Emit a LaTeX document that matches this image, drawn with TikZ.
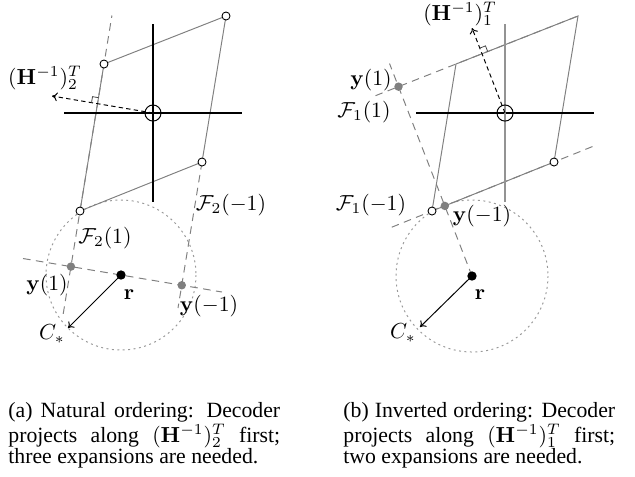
\documentclass[tikz,border=0pt]{standalone}
\usepackage[no-math]{fontspec}
\newfontfamily\capfont{Liberation Serif}
\usetikzlibrary{calc,arrows.meta}
\begin{document}
\begin{tikzpicture}[x=0.46pt,y=-0.46pt,
  lat/.style={draw=gray,line width=0.45pt},
  face/.style={draw=gray,line width=0.45pt,dash pattern=on 3.5pt off 2.5pt},
  axis/.style={draw=black,line width=0.55pt},
  gaxis/.style={draw=gray!85,line width=0.9pt},
  sph/.style={draw=gray!80,line width=0.45pt,dash pattern=on 0.9pt off 1.6pt},
  proj/.style={draw=black,line width=0.45pt,dash pattern=on 2pt off 1.5pt,-{To[length=2.5pt,width=4pt]}},
  rmark/.style={draw=black!75,line width=0.35pt},
  radarrow/.style={draw=black,line width=0.45pt,-{To[length=2.5pt,width=4pt]}},
  wpt/.style={circle,draw=black,fill=white,inner sep=0pt,minimum size=3.7pt,line width=0.4pt},
  gpt/.style={circle,fill=gray,inner sep=0pt,minimum size=3.9pt},
  bpt/.style={circle,fill=black,inner sep=0pt,minimum size=4.3pt},
  org/.style={circle,draw=black,inner sep=0pt,minimum size=7.4pt,line width=0.45pt},
  lbl/.style={inner sep=0pt},
  captionbox/.style={anchor=base west,inner sep=0pt}
]
\useasboundingbox (0,0) rectangle (635,476);

% ---------------- left panel ----------------
\coordinate (O1) at (153,113);
\coordinate (A1) at (80,211);
\coordinate (B1) at (202,162);
\coordinate (C1) at (226,16);
\coordinate (D1) at (104,64);
\coordinate (T1) at (52,96);
\coordinate (R1) at (121,275);
\coordinate (Q1) at ($(R1)+(T1)-(O1)$);
\coordinate (Y1p) at (intersection of A1--D1 and R1--Q1);
\coordinate (Y1m) at (intersection of B1--C1 and R1--Q1);
\coordinate (P1) at (intersection of A1--D1 and O1--T1);
\coordinate (X1) at ($(R1)+(-53,53)$);
\coordinate (H1w) at (64,113);
\coordinate (H1e) at (242,113);
\coordinate (V1n) at (153,24);
\coordinate (V1s) at (153,202);

\draw[sph] (R1) circle[radius=75];
\draw[face] ($(A1)!-0.7!(D1)$) -- ($(A1)!1.33!(D1)$);
\draw[face] (B1) -- ($(B1)!-1!(C1)$);
\draw[face] ($(R1)!0.97!(Q1)$) -- ($(R1)!-1!(Q1)$);
\draw[lat] (A1) -- (B1) -- (C1) -- (D1) -- cycle;
\draw[axis] (H1w) -- (H1e);
\draw[axis] (V1n) -- (V1s);
\draw[proj] (O1) -- (T1);
\coordinate (P1a) at ($(P1)!2.8pt!(T1)$);
\coordinate (P1b) at ($(P1)!2.8pt!(D1)$);
\draw[rmark] (P1a) -- ($(P1a)+(P1b)-(P1)$) -- (P1b);
\draw[radarrow] (R1) -- (X1);

\node[org] (o1) at (O1) {};
\node[wpt] (a1) at (A1) {};
\node[wpt] (b1) at (B1) {};
\node[wpt] (c1) at (C1) {};
\node[wpt] (d1) at (D1) {};
\node[gpt] (yp1) at (Y1p) {};
\node[gpt] (ym1) at (Y1m) {};
\node[bpt] (r1) at (R1) {};

\node[lbl] (lh1) at (45,78) {$(\mathbf{H}^{-1})^T_2$};
\node[lbl] (lfm1) at (231,205) {$\mathcal{F}_2(-1)$};
\node[lbl] (lfp1) at (105,238) {$\mathcal{F}_2(1)$};
\node[lbl] (lyp1) at (47,285) {$\mathbf{y}(1)$};
\node[lbl] (lr1) at (129,295) {$\mathbf{r}$};
\node[lbl] (lym1) at (209,306) {$\mathbf{y}(-1)$};
\node[lbl] (lc1) at (52,334) {$C_*$};

% ---------------- right panel ----------------
\coordinate (O2) at (505,113);
\coordinate (A2) at (432,211);
\coordinate (B2) at (554,162);
\coordinate (C2) at (578,16);
\coordinate (D2) at (456,64);
\coordinate (T2) at (472,28);
\coordinate (R2) at (472,276);
\coordinate (Q2) at ($(R2)+(T2)-(O2)$);
\coordinate (Y2p) at (intersection of D2--C2 and R2--Q2);
\coordinate (Y2m) at (intersection of A2--B2 and R2--Q2);
\coordinate (P2) at (intersection of D2--C2 and O2--T2);
\coordinate (X2) at ($(R2)+(-52,51)$);
\coordinate (H2w) at (416,113);
\coordinate (H2e) at (594,113);
\coordinate (V2n) at (505,24);
\coordinate (V2s) at (505,202);

\draw[sph] (R2) circle[radius=76];
\draw[face] ($(D2)!-0.66!(C2)$) -- (C2);
\draw[face] ($(A2)!-0.33!(B2)$) -- ($(A2)!1.33!(B2)$);
\draw[face] (R2) -- ($(R2)!2.5!(Q2)$);
\draw[lat] (A2) -- (B2) -- (C2) -- (D2) -- cycle;
\draw[axis] (H2w) -- (H2e);
\draw[gaxis] (V2n) -- (V2s);
\draw[proj] (O2) -- (T2);
\coordinate (P2a) at ($(P2)!2.8pt!(T2)$);
\coordinate (P2b) at ($(P2)!2.8pt!(C2)$);
\draw[rmark] (P2a) -- ($(P2a)+(P2b)-(P2)$) -- (P2b);
\draw[radarrow] (R2) -- (X2);

\node[org] (o2) at (O2) {};
\node[wpt] (a2) at (A2) {};
\node[wpt] (b2) at (B2) {};
\node[gpt] (yp2) at (Y2p) {};
\node[gpt] (ym2) at (Y2m) {};
\node[bpt] (r2) at (R2) {};

\node[lbl] (lh2) at (460,14) {$(\mathbf{H}^{-1})^T_1$};
\node[lbl] (lyp2) at (371,80) {$\mathbf{y}(1)$};
\node[lbl] (lfp2) at (364,112) {$\mathcal{F}_1(1)$};
\node[lbl] (lfm2) at (371,205) {$\mathcal{F}_1(-1)$};
\node[lbl] (lym2) at (482,216) {$\mathbf{y}(-1)$};
\node[lbl] (lr2) at (480,295) {$\mathbf{r}$};
\node[lbl] (lc2) at (403,333) {$C_*$};

% ---------------- captions ----------------
\node[captionbox] (capa) at (8,417) {\parbox[t]{125pt}{\capfont\fontsize{10}{10}\selectfont (a) Natural ordering: Decoder\linebreak projects along $(\mathbf{H}^{-1})^T_2$ first;\linebreak three expansions are needed.}};
\node[captionbox] (capb) at (343,417) {\parbox[t]{125pt}{\capfont\fontsize{10}{10}\selectfont (b) Inverted ordering: Decoder\linebreak projects along $(\mathbf{H}^{-1})^T_1$ first;\linebreak two expansions are needed.}};
\end{tikzpicture}
\end{document}
